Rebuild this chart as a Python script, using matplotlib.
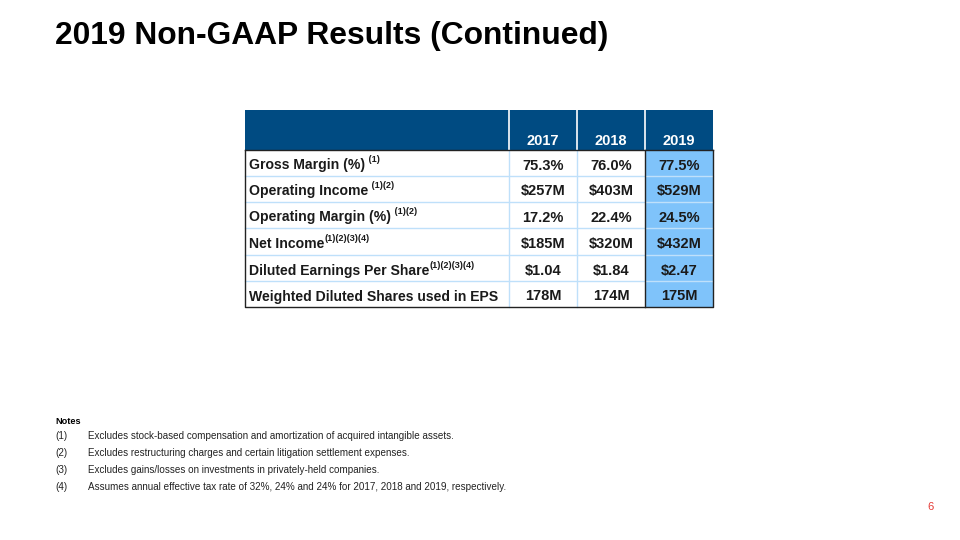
import matplotlib
matplotlib.use("Agg")
import matplotlib.pyplot as plt
from matplotlib.patches import Rectangle

title = "2019 Non-GAAP Results (Continued)"
years = ["2017", "2018", "2019"]
row_labels = ["Gross Margin (%)", "Operating Income", "Operating Margin (%)",
              "Net Income", "Diluted Earnings Per Share",
              "Weighted Diluted Shares used in EPS"]
row_sups = [" (1)", " (1)(2)", " (1)(2)", "(1)(2)(3)(4)", "(1)(2)(3)(4)", ""]
values_2017 = ["75.3%", "$257M", "17.2%", "$185M", "$1.04", "178M"]
values_2018 = ["76.0%", "$403M", "22.4%", "$320M", "$1.84", "174M"]
values_2019 = ["77.5%", "$529M", "24.5%", "$432M", "$2.47", "175M"]
notes = [
    ("(1)", "Excludes stock-based compensation and amortization of acquired intangible assets."),
    ("(2)", "Excludes restructuring charges and certain litigation settlement expenses."),
    ("(3)", "Excludes gains/losses on investments in privately-held companies."),
    ("(4)", "Assumes annual effective tax rate of 32%, 24% and 24% for 2017, 2018 and 2019, respectively."),
]
page_number = "6"

plt.rcParams['font.family'] = ['Liberation Sans', 'DejaVu Sans']

fig = plt.figure(figsize=(9.6, 5.4), dpi=100)
ax = fig.add_axes([0, 0, 1, 1])
ax.set_xlim(0, 960)
ax.set_ylim(540, 0)
ax.axis('off')

NAVY = "#004B82"
LIGHT = "#7FC3FA"
GRID = "#BFE0FA"

ax.text(55, 44, title, fontsize=22.9, fontweight='bold', color='black', va='baseline', ha='left')

# table geometry
col_x = [245, 509, 577, 645, 713]
header_top, header_bot = 110, 150
row_y = [150, 176, 202, 228, 255, 281, 307]

# header
ax.add_patch(Rectangle((col_x[0], header_top), col_x[-1] - col_x[0], header_bot - header_top,
                       facecolor=NAVY, edgecolor='none', zorder=1))
for x in col_x[1:-1]:
    ax.plot([x, x], [header_top, header_bot], color='white', lw=1.2, zorder=2)
# 2019 column highlight
ax.add_patch(Rectangle((col_x[3], row_y[0]), col_x[4] - col_x[3], row_y[-1] - row_y[0],
                       facecolor=LIGHT, edgecolor='none', zorder=1))
# inner grid
for y in row_y[1:-1]:
    ax.plot([col_x[0], col_x[-1]], [y, y], color=GRID, lw=1.0, zorder=2)
for x in col_x[1:3]:
    ax.plot([x, x], [row_y[0], row_y[-1]], color=GRID, lw=1.0, zorder=2)
# outer border of data region
ax.plot([col_x[0], col_x[0], col_x[-1], col_x[-1]],
        [row_y[0], row_y[-1], row_y[-1], row_y[0]], color='#222222', lw=1.0, zorder=3)
ax.plot([col_x[3], col_x[3]], [row_y[0], row_y[-1]], color='#222222', lw=1.0, zorder=3)
ax.plot([col_x[0], col_x[-1]], [row_y[0], row_y[0]], color='#222222', lw=1.0, zorder=3)

centers = [(col_x[i] + col_x[i + 1]) / 2 for i in range(1, 4)]
for c, yr in zip(centers, years):
    ax.text(c, 145, yr, fontsize=10.5, fontweight='bold', color='white', ha='center', va='baseline')

fig.canvas.draw()
renderer = fig.canvas.get_renderer()
inv = ax.transData.inverted()

cols = [values_2017, values_2018, values_2019]
for i, (lab, sup) in enumerate(zip(row_labels, row_sups)):
    yb = (row_y[i] + row_y[i + 1]) / 2 + 6.5
    t = ax.text(249, yb, lab, fontsize=10.1, fontweight='bold', color='#1a1a1a', ha='left', va='baseline', zorder=4)
    if sup:
        bb = t.get_window_extent(renderer)
        x_end = inv.transform((bb.x1, bb.y0))[0]
        ax.text(x_end + 0.5, yb - 7, sup, fontsize=6.5, fontweight='bold', color='#1a1a1a',
                ha='left', va='baseline', zorder=4)
    for c, vals in zip(centers, cols):
        ax.text(c, yb, vals[i], fontsize=10.5, fontweight='bold', color='#1a1a1a', ha='center', va='baseline', zorder=4)

# notes
ax.text(55, 424, "Notes", fontsize=6.6, fontweight='bold', color='black', ha='left', va='baseline')
for k, (num, txt) in enumerate(notes):
    y = 439 + k * 17
    ax.text(55, y, num, fontsize=7.15, color='#222222', ha='left', va='baseline')
    ax.text(88, y, txt, fontsize=7.15, color='#222222', ha='left', va='baseline')

ax.text(930, 510, page_number, fontsize=8, color='#E53935', ha='center', va='baseline')

fig.savefig("out.png", dpi=100)
